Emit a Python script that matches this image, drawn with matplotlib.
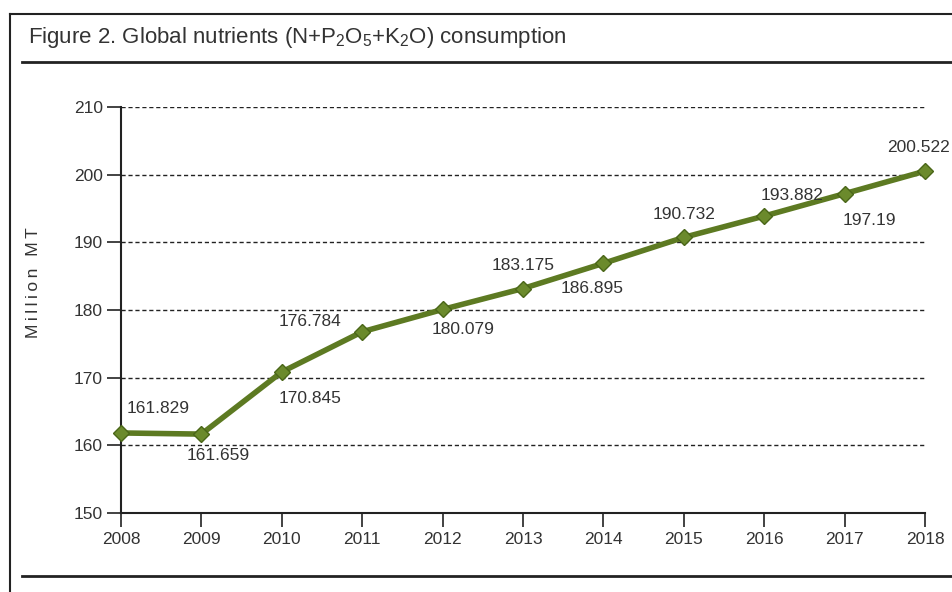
import matplotlib
matplotlib.use("Agg")
import matplotlib.pyplot as plt
from matplotlib.lines import Line2D

years = [2008, 2009, 2010, 2011, 2012, 2013, 2014, 2015, 2016, 2017, 2018]
values = [161.829, 161.659, 170.845, 176.784, 180.079, 183.175, 186.895, 190.732, 193.882, 197.19, 200.522]
labels = ["161.829", "161.659", "170.845", "176.784", "180.079", "183.175", "186.895", "190.732", "193.882", "197.19", "200.522"]
# label offsets in pixels (dx, dy)
offsets = [(37, 24), (17, -21), (28, -27), (-52, 10), (20, -20), (0, 23), (-11, -25), (0, 23), (28, 21), (25, -27), (-7, 24)]
yticks = [150, 160, 170, 180, 190, 200, 210]

plt.rcParams['font.family'] = ['Liberation Sans', 'DejaVu Sans']
plt.rcParams['mathtext.fontset'] = 'custom'
plt.rcParams['mathtext.rm'] = 'Liberation Sans'

fig = plt.figure(figsize=(9.52, 5.92), dpi=100)
W, H = 952, 592
ax = fig.add_axes([121 / W, 1 - 513 / H, (925 - 121) / W, (513 - 107) / H])

ax.set_xlim(2008, 2018)
ax.set_ylim(150, 210)
for y in yticks[1:]:
    ax.axhline(y, color='#222222', lw=1.0, ls=(0, (3, 2)), zorder=1)

green = '#5d7a22'
ax.plot(years, values, color=green, lw=4, marker='D', markersize=8.5,
        markerfacecolor='#6b8a2c', markeredgecolor='#4a6618', zorder=3, clip_on=False)

for x, v, t, (dx, dy) in zip(years, values, labels, offsets):
    ax.annotate(t, (x, v), xytext=(dx, dy), textcoords='offset pixels',
                ha='center', va='center', fontsize=12.5, color='#333333')

ax.set_xticks(years)
ax.set_xticklabels([str(y) for y in years])
ax.set_yticks(yticks)
ax.tick_params(axis='both', direction='out', length=10, width=1.2, colors='#222222',
               labelsize=12.5, labelcolor='#333333')
ax.tick_params(axis='x', pad=4)
ax.tick_params(axis='y', pad=3)
for s in ['top', 'right']:
    ax.spines[s].set_visible(False)
for s in ['left', 'bottom']:
    ax.spines[s].set_linewidth(1.5)
    ax.spines[s].set_color('#222222')

fig.text(34 / W, 1 - 283 / H, '\u2009'.join('Million MT'), rotation=90,
         fontsize=12.5, color='#333333', ha='center', va='center')

# frame lines
def fl(x0, y0, x1, y1, lw):
    fig.add_artist(Line2D([x0 / W, x1 / W], [1 - y0 / H, 1 - y1 / H], color='#222222', lw=lw))

fl(10, 14, 952, 14, 1.5)
fl(10, 14, 10, 592, 1.5)
fl(22, 62, 952, 62, 2)
fl(22, 576, 952, 576, 2)

fig.text(28 / W, 1 - 38 / H, r'Figure 2. Global nutrients (N+P$_2$O$_5$+K$_2$O) consumption',
         fontsize=16, color='#333333', va='center', ha='left')

fig.savefig('out.png', dpi=100)
